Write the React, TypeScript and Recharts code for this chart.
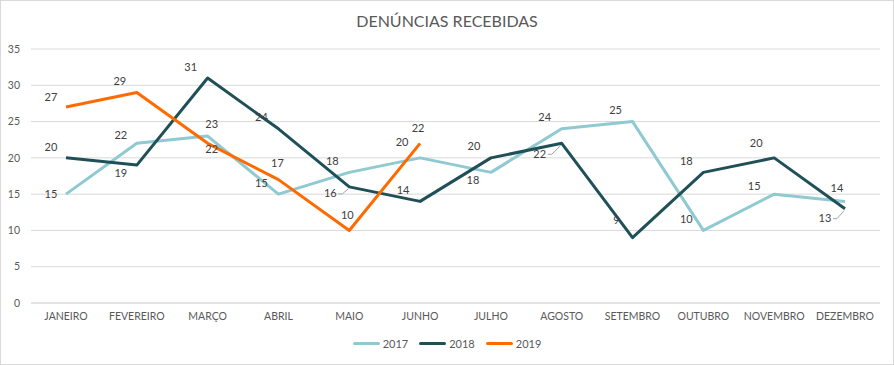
import { CartesianGrid, LabelList, Line, LineChart, XAxis, YAxis } from 'recharts';

const months = [
  'JANEIRO', 'FEVEREIRO', 'MARÇO', 'ABRIL', 'MAIO', 'JUNHO',
  'JULHO', 'AGOSTO', 'SETEMBRO', 'OUTUBRO', 'NOVEMBRO', 'DEZEMBRO',
];
const values2017 = [15, 22, 23, 15, 18, 20, 18, 24, 25, 10, 15, 14];
const values2018 = [20, 19, 31, 24, 16, 14, 20, 22, 9, 18, 20, 13];
const values2019 = [27, 29, 22, 17, 10, 22];
const yTicks = [0, 5, 10, 15, 20, 25, 30, 35];

const colors = { y2017: '#8FC9D2', y2018: '#1F4F57', y2019: '#FF6A00' };
const seriesNames = { y2017: '2017', y2018: '2018', y2019: '2019' };

const data = months.map((m, i) => ({
  month: m,
  y2017: values2017[i],
  y2018: values2018[i],
  y2019: i < values2019.length ? values2019[i] : null,
}));

// where each data label sits relative to its point (Excel placed them by hand)
const defaultOffset = { dx: -17, dy: -12 };
const labelOffsets: Record<string, Record<number, { dx: number; dy: number; leader?: boolean }>> = {
  y2017: {
    0: { dx: -15, dy: -1 },
    1: { dx: -16, dy: -9 },
    2: { dx: 4, dy: -13 },
    5: { dx: -18, dy: -16 },
    6: { dx: -18, dy: 7 },
    10: { dx: -20, dy: -9 },
    11: { dx: -8, dy: -14 },
  },
  y2018: {
    0: { dx: -15, dy: -11 },
    1: { dx: -16, dy: 7 },
    4: { dx: -19, dy: 6, leader: true },
    8: { dx: -16, dy: -18 },
    10: { dx: -18, dy: -15 },
    7: { dx: -22, dy: 10, leader: true },
    11: { dx: -20, dy: 9, leader: true },
  },
  y2019: {
    0: { dx: -15, dy: -11 },
    2: { dx: 4, dy: 5 },
    3: { dx: -1, dy: -17 },
    4: { dx: -2, dy: -16 },
    5: { dx: -2, dy: -16 },
  },
};

const font = 'Lato, "Open Sans", sans-serif';

function makeLabel(key: string) {
  return (props: any) => {
    const { x, y, value, index } = props;
    if (value == null || x == null || y == null) return null;
    const o = labelOffsets[key][index] || defaultOffset;
    const lx = x + o.dx;
    const ly = y + o.dy;
    return (
      <g>
        {o.leader && (
          <path
            d={`M${lx + 8},${ly + 1} h4 L${x - 1},${y + 2}`}
            fill="none"
            stroke="#A6A6A6"
            strokeWidth={1}
          />
        )}
        <text x={lx} y={ly} textAnchor="middle" dominantBaseline="central" fontSize={11} fill="#404040" fontFamily={font}>
          {value}
        </text>
      </g>
    );
  };
}

function ChartLegend() {
  const keys = ['y2017', 'y2018', 'y2019'] as const;
  return (
    <div
      style={{
        position: 'absolute', left: 0, top: 337, width: 894,
        display: 'flex', justifyContent: 'center', gap: 11,
        fontFamily: font, fontSize: 11, color: '#595959',
      }}
    >
      {keys.map((k) => (
        <div key={k} style={{ display: 'flex', alignItems: 'center', gap: 3 }}>
          <span style={{ display: 'inline-block', width: 27, height: 3, borderRadius: 2, background: colors[k] }} />
          <span>{seriesNames[k]}</span>
        </div>
      ))}
    </div>
  );
}

export default function App() {
  return (
    <div style={{ position: 'absolute', left: 0, top: 0, width: 894, height: 365, background: '#fff' }}>
      <div
        style={{
          position: 'absolute', left: 0, top: 11, width: 894, textAlign: 'center',
          fontFamily: font, fontSize: 16, color: '#595959',
        }}
      >
        DENÚNCIAS RECEBIDAS
      </div>
      <LineChart width={894} height={365} data={data} margin={{ top: 49, right: 14, bottom: 32, left: 0 }}>
        <CartesianGrid vertical={false} stroke="#D9D9D9" />
        <XAxis
          dataKey="month"
          height={30}
          padding={{ left: 35, right: 35 }}
          axisLine={{ stroke: '#D9D9D9' }}
          tickLine={false}
          tickSize={0}
          tickMargin={10}
          interval={0}
          tick={{ fontSize: 10.5, fill: '#595959', fontFamily: font }}
        />
        <YAxis
          width={31}
          domain={[0, 35]}
          ticks={yTicks}
          axisLine={false}
          tickLine={false}
          tickSize={0}
          tickMargin={11}
          tick={{ fontSize: 10.5, fill: '#595959', fontFamily: font }}
        />
        <Line dataKey="y2017" stroke={colors.y2017} strokeWidth={3} dot={false} isAnimationActive={false} strokeLinejoin="round">
          <LabelList dataKey="y2017" content={makeLabel('y2017')} />
        </Line>
        <Line dataKey="y2018" stroke={colors.y2018} strokeWidth={3} dot={false} isAnimationActive={false} strokeLinejoin="round">
          <LabelList dataKey="y2018" content={makeLabel('y2018')} />
        </Line>
        <Line dataKey="y2019" stroke={colors.y2019} strokeWidth={3} dot={false} isAnimationActive={false} strokeLinejoin="round">
          <LabelList dataKey="y2019" content={makeLabel('y2019')} />
        </Line>
      </LineChart>
      <ChartLegend />
      <div style={{ position: 'absolute', inset: 0, border: '1px solid #D9D9D9', pointerEvents: 'none' }} />
    </div>
  );
}
